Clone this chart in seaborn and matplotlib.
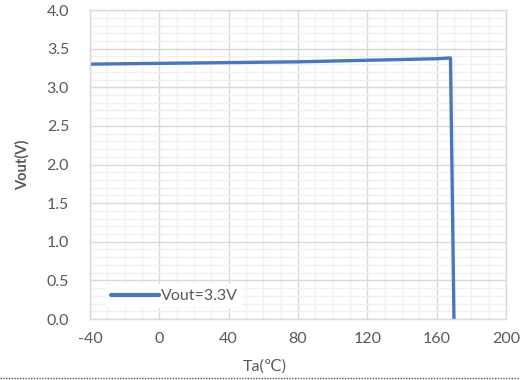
import matplotlib
matplotlib.use("Agg")
import matplotlib.pyplot as plt
import seaborn as sns
import pandas as pd
import numpy as np
from matplotlib.ticker import MultipleLocator
from matplotlib.lines import Line2D

ta = [-40, 0, 40, 80, 120, 160, 168, 170]
vout = [3.30, 3.31, 3.32, 3.33, 3.35, 3.37, 3.38, 0.0]
series_name = "Vout=3.3V"
x_ticks = [-40, 0, 40, 80, 120, 160, 200]
y_ticks = [0.0, 0.5, 1.0, 1.5, 2.0, 2.5, 3.0, 3.5, 4.0]

sns.set_style("white")
plt.rcParams['font.family'] = ['Lato', 'DejaVu Sans']
plt.rcParams['axes.unicode_minus'] = False

df = pd.DataFrame({"Ta": ta, "Vout": vout, "series": series_name})

fig = plt.figure(figsize=(5.2, 3.8), dpi=100)
ax = fig.add_axes([0.173, 0.1605, 0.8, 0.813])

sns.lineplot(data=df, x="Ta", y="Vout", hue="series", palette=["#4A76BE"],
             linewidth=2.4, ax=ax, sort=False, estimator=None)

ax.set_xlim(-40, 200)
ax.set_ylim(0, 4.0)
ax.set_xticks(x_ticks)
ax.set_yticks(y_ticks)
ax.set_yticklabels([f"{v:.1f}" for v in y_ticks])
ax.xaxis.set_minor_locator(MultipleLocator(10))
ax.yaxis.set_minor_locator(MultipleLocator(0.1))
ax.grid(which="major", color="#D9D9D9", linewidth=1.0)
ax.grid(which="minor", color="#F0F0F0", linewidth=1.0)
ax.set_axisbelow(True)
for s in ax.spines.values():
    s.set_color("#D9D9D9")
    s.set_linewidth(1.0)
ax.tick_params(axis="both", which="both", length=0, labelsize=11.5,
               colors="#595959")
ax.tick_params(axis="y", pad=15)
ax.tick_params(axis="x", pad=9)
ax.set_xlabel("Ta(℃)", fontsize=11.5, color="#595959")
ax.set_ylabel("Vout(V)", fontsize=10.5, color="#595959", fontweight="bold")
ax.xaxis.set_label_coords(0.42, -0.13)
ax.yaxis.set_label_coords(-0.145, 0.5)

leg = ax.legend(handles=[Line2D([0], [0], color="#4A76BE", lw=3)],
                labels=[series_name], loc="lower left",
                bbox_to_anchor=(0.02, 0.01), frameon=True, facecolor="white",
                edgecolor="none", framealpha=1, handlelength=3.0,
                handletextpad=0.1, fontsize=11.5, borderpad=0.3)
for t in leg.get_texts():
    t.set_color("#595959")

fig.add_artist(Line2D([0.0, 1.0], [0.005, 0.005], transform=fig.transFigure,
                      color="#555555", linestyle=(0, (1, 1)), linewidth=1.0))

fig.savefig("out.png", dpi=100)
